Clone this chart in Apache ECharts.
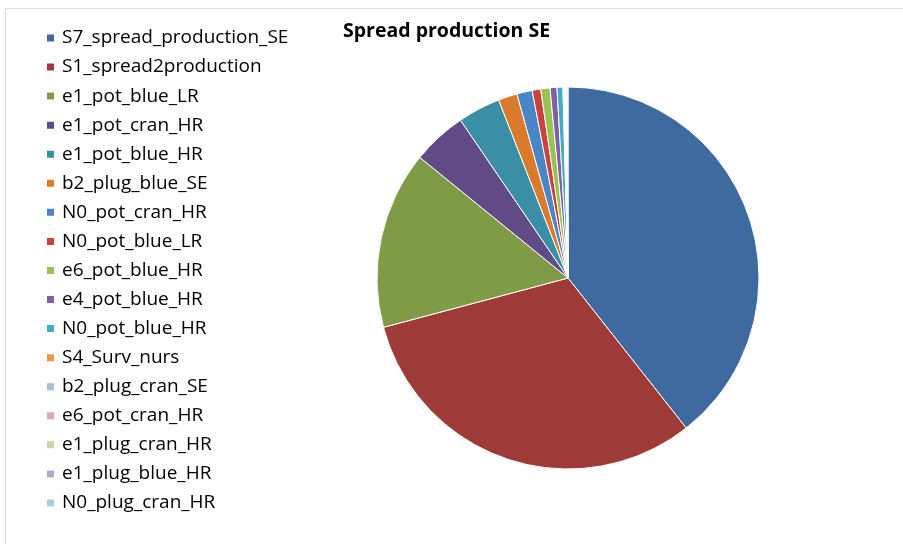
<!DOCTYPE html>
<html>
<head>
<meta charset="utf-8">
<script src="https://cdn.jsdelivr.net/npm/echarts@6/dist/echarts.min.js"></script>
<style>
  html, body { margin: 0; padding: 0; background: #fff; }
  #chart { width: 903px; height: 544px; }
</style>
</head>
<body>
<div id="chart"></div>
<script>
// Share of each source in spread production (percent)
const categories = [
  'S7_spread_production_SE', 'S1_spread2production', 'e1_pot_blue_LR',
  'e1_pot_cran_HR', 'e1_pot_blue_HR', 'b2_plug_blue_SE', 'N0_pot_cran_HR',
  'N0_pot_blue_LR', 'e6_pot_blue_HR', 'e4_pot_blue_HR', 'N0_pot_blue_HR',
  'S4_Surv_nurs', 'b2_plug_cran_SE', 'e6_pot_cran_HR', 'e1_plug_cran_HR',
  'e1_plug_blue_HR', 'N0_plug_cran_HR'
];
const shares = [
  39.3, 31.4, 15.0, 4.6, 3.6, 1.6, 1.3,
  0.72, 0.78, 0.58, 0.5,
  0.07, 0.07, 0.07, 0.07, 0.07, 0.07
];
const palette = [
  '#3F6A9F', '#9E3B39', '#7F9B45', '#614B86', '#3A8EA6', '#D97A2D',
  '#4A86C5', '#C8423E', '#9BC250', '#7E5FA8', '#45ACC8', '#F7923E',
  '#A9BCDD', '#DDA9A8', '#C5D6A6', '#B5A9C8', '#A5D1DF'
];
const titleText = 'Spread production SE';

const chart = echarts.init(document.getElementById('chart'), null, { renderer: 'canvas' });
chart.setOption({
  animation: false,
  backgroundColor: '#ffffff',
  color: palette,
  title: {
    text: titleText,
    left: 338,
    top: 16,
    textStyle: { fontFamily: 'Open Sans', fontWeight: 'bold', fontSize: 19.5, color: '#000' }
  },
  graphic: [{
    type: 'rect',
    shape: { x: 5.5, y: 8.5, width: 1000, height: 1000 },
    style: { fill: 'none', stroke: '#d9d9d9', lineWidth: 1 },
    silent: true
  }],
  legend: {
    orient: 'vertical',
    left: 40,
    top: 23,
    icon: 'rect',
    itemWidth: 9,
    itemHeight: 9,
    itemGap: 9.06,
    data: categories,
    textStyle: {
      fontFamily: 'Open Sans', fontSize: 19, color: '#000',
      lineHeight: 20, padding: [0, 0, 0, 2]
    }
  },
  series: [{
    type: 'pie',
    center: [568, 278],
    radius: 191,
    startAngle: 90,
    clockwise: true,
    label: { show: false },
    labelLine: { show: false },
    itemStyle: { borderColor: '#ffffff', borderWidth: 1 },
    emphasis: { disabled: true },
    data: categories.map((name, i) => ({ name, value: shares[i] }))
  }]
});
</script>
</body>
</html>
